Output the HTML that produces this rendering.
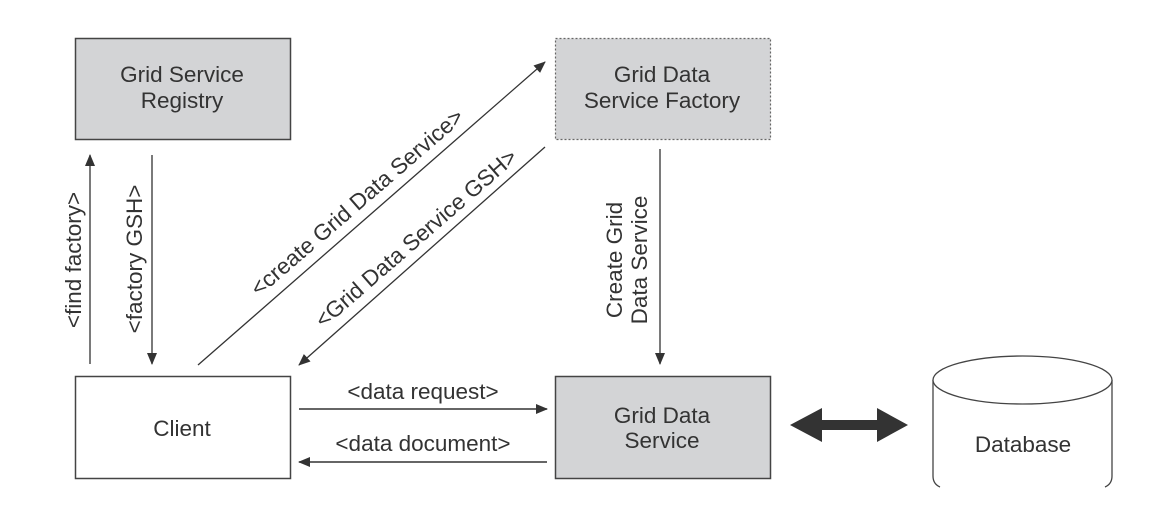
<!DOCTYPE html>
<html><head><meta charset="utf-8"><style>
html,body{margin:0;padding:0;background:#fff;}
svg{display:block;}
text{font-family:"Liberation Sans",Arial,sans-serif;fill:#333;font-size:22.5px;}
</style></head><body>
<svg width="1175" height="529" viewBox="0 0 1175 529" xmlns="http://www.w3.org/2000/svg">
<defs>
<marker id="ah" markerWidth="12" markerHeight="10" refX="11" refY="5" orient="auto" markerUnits="userSpaceOnUse">
<path d="M0,0 L12,5 L0,10 Z" fill="#333"/></marker>
</defs>
<rect x="75.5" y="38.5" width="215" height="101" fill="#d3d4d6" stroke="#444" stroke-width="1.5"/>
<rect x="75.5" y="376.5" width="215" height="102" fill="#fff" stroke="#444" stroke-width="1.5"/>
<rect x="555.5" y="38.5" width="215" height="101" fill="#d3d4d6" stroke="#666" stroke-width="1.2" stroke-dasharray="2,2"/>
<rect x="555.5" y="376.5" width="215" height="102" fill="#d3d4d6" stroke="#444" stroke-width="1.5"/>

<text x="182" y="82" text-anchor="middle">Grid Service</text>
<text x="182" y="108" text-anchor="middle">Registry</text>
<text x="182" y="436" text-anchor="middle">Client</text>
<text x="662" y="82" text-anchor="middle">Grid Data</text>
<text x="662" y="108" text-anchor="middle">Service Factory</text>
<text x="662" y="423" text-anchor="middle">Grid Data</text>
<text x="662" y="448" text-anchor="middle">Service</text>

<line x1="90" y1="364" x2="90" y2="155" stroke="#333" stroke-width="1.3" marker-end="url(#ah)"/>
<line x1="152" y1="155" x2="152" y2="364" stroke="#333" stroke-width="1.3" marker-end="url(#ah)"/>
<text transform="translate(81,260) rotate(-90)" text-anchor="middle">&lt;find factory&gt;</text>
<text transform="translate(142,259) rotate(-90)" text-anchor="middle">&lt;factory GSH&gt;</text>

<line x1="198" y1="365" x2="545" y2="62" stroke="#333" stroke-width="1.3" marker-end="url(#ah)"/>
<line x1="545" y1="147" x2="299" y2="365" stroke="#333" stroke-width="1.3" marker-end="url(#ah)"/>
<text transform="translate(362,208) rotate(-40.8)" text-anchor="middle">&lt;create Grid Data Service&gt;</text>
<text transform="translate(421,244) rotate(-41)" text-anchor="middle">&lt;Grid Data Service GSH&gt;</text>

<line x1="660" y1="149" x2="660" y2="364" stroke="#333" stroke-width="1.3" marker-end="url(#ah)"/>
<text transform="translate(622,260) rotate(-90)" text-anchor="middle">Create Grid</text>
<text transform="translate(647,260) rotate(-90)" text-anchor="middle">Data Service</text>

<text x="423" y="399" text-anchor="middle">&lt;data request&gt;</text>
<line x1="299" y1="409" x2="547" y2="409" stroke="#333" stroke-width="1.5" marker-end="url(#ah)"/>
<text x="423" y="451" text-anchor="middle">&lt;data document&gt;</text>
<line x1="547" y1="462" x2="299" y2="462" stroke="#333" stroke-width="1.5" marker-end="url(#ah)"/>

<path d="M790,425 L822,408 L822,420 L877,420 L877,408 L908,425 L877,442 L877,430 L822,430 L822,442 Z" fill="#333"/>

<path d="M933,380 L933,476 Q933,484 940,487 M1112,380 L1112,476 Q1112,484 1105,487" fill="none" stroke="#444" stroke-width="1.3"/>
<ellipse cx="1022.5" cy="380" rx="89.5" ry="24" fill="#fff" stroke="#444" stroke-width="1.3"/>
<text x="1023" y="452" text-anchor="middle">Database</text>
</svg>
</body></html>
